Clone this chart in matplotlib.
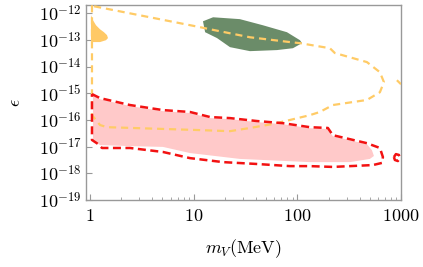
import numpy as np
import matplotlib
matplotlib.use("Agg")
import matplotlib.pyplot as plt
from matplotlib.ticker import LogLocator, FixedLocator, FixedFormatter, NullFormatter

plt.rcParams['mathtext.fontset'] = 'cm'
plt.rcParams['font.family'] = 'serif'
plt.rcParams['font.serif'] = ['DejaVu Serif']

# ---- data (mass in MeV, log10 epsilon) ----
# yellow dashed contour
yel_m = [1.045, 1.045, 1.25, 1.46, 11.5, 22.4, 34.9, 58.2, 84.9, 132, 165, 220,
         469, 626, 684, 626, 469, 230, 206, 106, 84.9, 34.9, 14.4, 11.5, 1.07]
yel_le = [-11.70, -15.82, -16.19, -16.27, -16.38, -16.42, -16.30, -16.15, -16.00, -15.82,
          -15.70, -15.44, -15.25, -14.96, -14.58, -14.21, -13.83, -13.49, -13.31, -13.12,
          -13.08, -12.90, -12.60, -12.52, -11.73]
# yellow fragment at right edge
yel2_m = [913, 1000]
yel2_le = [-14.51, -14.66]
# yellow filled blob
yb_m = [1.022, 1.069, 1.143, 1.249, 1.364, 1.459, 1.491, 1.426, 1.249, 1.045, 1.022]
yb_le = [-12.07, -12.26, -12.45, -12.60, -12.71, -12.82, -12.93, -13.01, -13.08, -13.08, -13.05]
# green filled blob
gr_m = [12.3, 15.4, 27.9, 46.6, 79.4, 106, 111, 90.7, 63.6, 34.9, 22.4, 16.8, 12.9]
gr_le = [-12.30, -12.15, -12.22, -12.45, -12.71, -13.01, -13.12, -13.31, -13.38, -13.42,
         -13.27, -12.93, -12.71]
# red dashed contour
red_m = [1.045, 1.249, 2.43, 5.06, 9.21, 14.4, 22.4, 40.8, 72.6, 132, 197, 220, 469, 626,
         669, 655, 536, 220, 132, 84.9, 40.8, 19.2, 9.21, 5.06, 2.43, 1.305, 1.194, 1.045, 1.045]
red_le = [-15.03, -15.18, -15.44, -15.63, -15.70, -15.89, -15.93, -16.04, -16.12, -16.27,
          -16.30, -16.57, -16.87, -17.05, -17.39, -17.61, -17.69, -17.76, -17.73, -17.73,
          -17.65, -17.58, -17.43, -17.20, -17.05, -17.05, -16.90, -16.75, -15.03]
# small red loop
rl_m = [854, 893, 954, 976, 933, 873, 854]
rl_le = [-17.39, -17.28, -17.31, -17.43, -17.54, -17.50, -17.39]
# pink fill
pk_m = [1.069, 1.249, 2.43, 5.06, 9.21, 14.4, 22.4, 40.8, 72.6, 132, 197, 220, 469, 524,
        548, 501, 322, 132, 27.9, 9.21, 5.06, 2.43, 1.249, 1.117, 1.069]
pk_le = [-15.07, -15.22, -15.48, -15.67, -15.74, -15.93, -15.97, -16.08, -16.16, -16.31,
         -16.34, -16.61, -16.91, -17.13, -17.35, -17.46, -17.58, -17.58, -17.46, -17.24,
         -17.01, -16.98, -16.94, -16.83, -16.68]

xticks = [1, 10, 100, 1000]
xtick_labels = ['$1$', '$10$', '$100$', '$1000$']
yticks_exp = [-19, -18, -17, -16, -15, -14, -13, -12]

def e(v):
    return 10.0 ** np.asarray(v)

fig = plt.figure(figsize=(4.23, 2.67), dpi=100)
ax = fig.add_axes([86/423, 1 - 200/267, (401-86)/423, (200-5)/267])
ax.set_xscale('log')
ax.set_yscale('log')

c_yel = '#FFCB66'
c_red = '#F21212'
ax.fill(pk_m, e(pk_le), color='#FFC9C9', lw=0, zorder=1)
ax.fill(yb_m, e(yb_le), color='#FFC966', lw=0, zorder=2)
ax.fill(gr_m, e(gr_le), color='#6B8C69', lw=0, zorder=2)
ax.plot(yel_m, e(yel_le), color=c_yel, lw=1.6, ls=(0, (3.2, 2.2)), zorder=3)
ax.plot(yel2_m, e(yel2_le), color=c_yel, lw=1.6, ls=(0, (3.2, 2.2)), zorder=3)
ax.plot(red_m, e(red_le), color=c_red, lw=1.8, ls=(0, (3.2, 1.8)), zorder=4)
ax.plot(rl_m, e(rl_le), color=c_red, lw=1.8, ls=(0, (3.2, 1.8)), zorder=4)

ax.set_xlim(0.915, 1000)
ax.set_ylim(1e-19, 10 ** -11.69)

ax.xaxis.set_major_locator(FixedLocator(xticks))
ax.xaxis.set_major_formatter(FixedFormatter(xtick_labels))
ax.xaxis.set_minor_locator(LogLocator(base=10, subs=np.arange(2, 10)))
ax.xaxis.set_minor_formatter(NullFormatter())
ax.yaxis.set_major_locator(FixedLocator([10.0 ** k for k in yticks_exp]))
ax.yaxis.set_major_formatter(FixedFormatter(['$10^{%d}$' % k for k in yticks_exp]))
ax.yaxis.set_minor_locator(FixedLocator([]))

for s in ax.spines.values():
    s.set_color('#999999')
    s.set_linewidth(1.0)
ax.tick_params(which='major', direction='in', length=4.5, width=0.8, color='#999999',
               labelsize=13, pad=5, top=False, right=False)
ax.tick_params(which='minor', direction='in', length=2.5, width=0.6, color='#999999',
               top=False, right=False)
ax.tick_params(axis='y', pad=3)

ax.set_xlabel('$m_V(\\mathrm{MeV})$', fontsize=13, labelpad=9)
ax.set_ylabel('$\\epsilon$', fontsize=13, rotation=90, labelpad=10)

fig.savefig('out.png', dpi=100)
